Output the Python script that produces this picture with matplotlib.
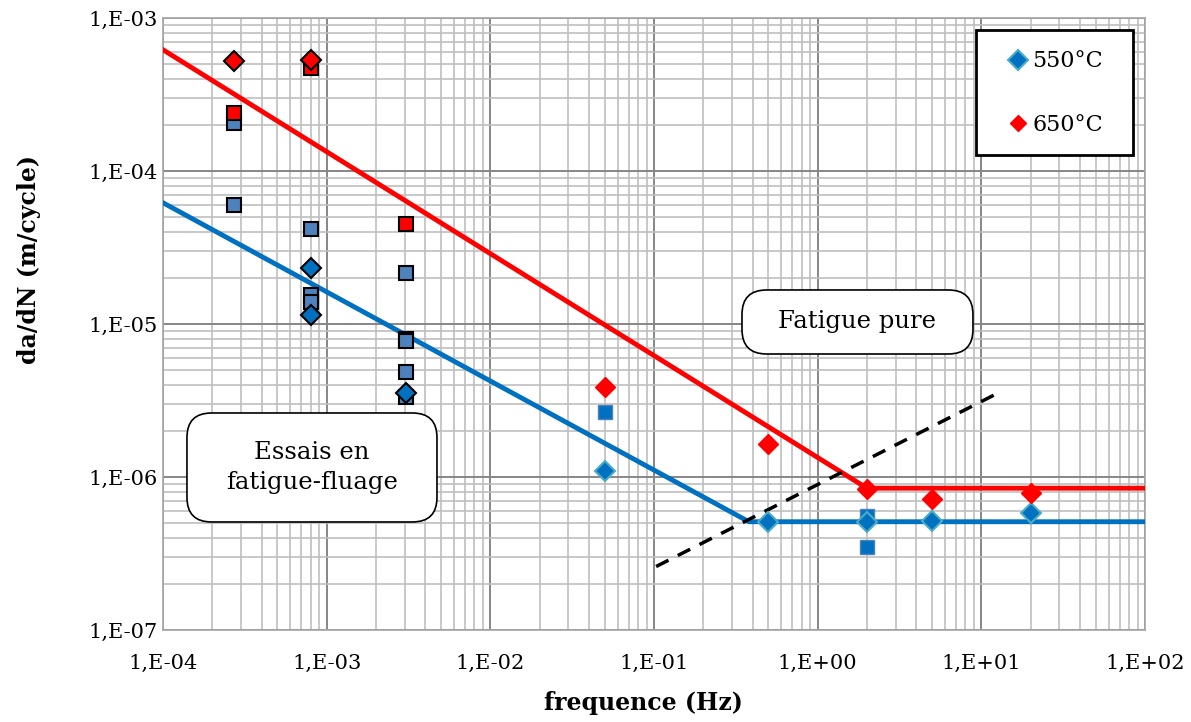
import matplotlib
matplotlib.use("Agg")
import matplotlib.pyplot as plt
from matplotlib.patches import FancyBboxPatch, Rectangle
from matplotlib.ticker import LogLocator, FixedLocator, NullFormatter
import numpy as np

plt.rcParams['font.family'] = ['DejaVu Serif']

# ---- data ----
# 650°C diamonds
r_dia_x = [2.72e-4, 8.05e-4, 0.05, 0.5, 2.0, 5.0, 20.0]
r_dia_y = [5.2e-4, 5.3e-4, 3.9e-6, 1.65e-6, 8.3e-7, 7.2e-7, 7.9e-7]
# 650°C squares (outlined)
r_sq_x = [2.72e-4, 8.05e-4, 3.07e-3]
r_sq_y = [2.4e-4, 4.7e-4, 4.5e-5]
# 550°C outlined squares
b_sq_o_x = [2.72e-4, 2.72e-4, 8.05e-4, 8.05e-4, 8.05e-4, 3.07e-3, 3.07e-3, 3.07e-3, 3.07e-3, 3.07e-3]
b_sq_o_y = [2.06e-4, 6.0e-5, 4.2e-5, 1.55e-5, 1.39e-5, 2.15e-5, 8.0e-6, 7.7e-6, 4.86e-6, 3.35e-6]
# 550°C outlined diamonds
b_dia_o_x = [8.05e-4, 8.05e-4, 3.07e-3]
b_dia_o_y = [2.32e-5, 1.15e-5, 3.54e-6]
# 550°C squares (no outline)
b_sq_x = [0.05, 2.0, 2.0]
b_sq_y = [2.66e-6, 5.6e-7, 3.5e-7]
# 550°C diamonds (legend series)
b_dia_x = [0.05, 0.5, 2.0, 5.0, 20.0]
b_dia_y = [1.09e-6, 5.1e-7, 5.1e-7, 5.15e-7, 5.85e-7]

# fit lines
red_fit_x = [1e-4, 2.0, 100.0]
red_fit_y = [6.2e-4, 8.45e-7, 8.45e-7]
blue_fit_x = [1e-4, 0.38, 100.0]
blue_fit_y = [6.2e-5, 5.1e-7, 5.1e-7]
dash_x = [0.103, 12.4]
dash_y = [2.6e-7, 3.5e-6]

xticks = [1e-4, 1e-3, 1e-2, 1e-1, 1e0, 1e1, 1e2]
xtick_labels = ["1,E-04", "1,E-03", "1,E-02", "1,E-01", "1,E+00", "1,E+01", "1,E+02"]
yticks = [1e-7, 1e-6, 1e-5, 1e-4, 1e-3]
ytick_labels = ["1,E-07", "1,E-06", "1,E-05", "1,E-04", "1,E-03"]

# ---- figure ----
fig = plt.figure(figsize=(11.91, 7.22), dpi=100)
ax = fig.add_axes([163/1191, 92/722, 982/1191, 612/722])
ax.set_xscale('log')
ax.set_yscale('log')
ax.set_xlim(1e-4, 1e2)
ax.set_ylim(1e-7, 1e-3)

ax.xaxis.set_major_locator(FixedLocator(xticks))
ax.yaxis.set_major_locator(FixedLocator(yticks))
ax.xaxis.set_minor_locator(LogLocator(base=10, subs=np.arange(2, 10)))
ax.yaxis.set_minor_locator(LogLocator(base=10, subs=np.arange(2, 10)))
ax.xaxis.set_minor_formatter(NullFormatter())
ax.yaxis.set_minor_formatter(NullFormatter())
ax.set_xticklabels(xtick_labels)
ax.set_yticklabels(ytick_labels)
ax.tick_params(which='both', length=0, labelsize=15, colors='black')
ax.tick_params(axis='x', pad=17)
ax.tick_params(axis='y', pad=4)

ax.grid(which='minor', color='#BFBFBF', linewidth=1.2, zorder=0)
ax.grid(which='major', color='#868686', linewidth=1.4, zorder=0)
ax.set_axisbelow(True)
for s in ax.spines.values():
    s.set_color('#A6A6A6')
    s.set_linewidth(1.2)

ax.plot(red_fit_x, red_fit_y, color='#FF0000', lw=3.5, zorder=3)
ax.plot(blue_fit_x, blue_fit_y, color='#0070C0', lw=3.5, zorder=3)
ax.plot(dash_x, dash_y, color='black', lw=2.5, ls=(0, (4, 3)), zorder=3)

ax.plot(b_sq_o_x, b_sq_o_y, 's', ms=10, mfc='#4F81BD', mec='black', mew=1.5, ls='none', zorder=4)
ax.plot(r_sq_x, r_sq_y, 's', ms=10, mfc='#FF0000', mec='black', mew=1.5, ls='none', zorder=4)
ax.plot(b_dia_o_x, b_dia_o_y, 'D', ms=10.5, mfc='#0070C0', mec='black', mew=1.5, ls='none', zorder=5)
ax.plot(b_sq_x, b_sq_y, 's', ms=10, mfc='#0070C0', mec='#4F81BD', mew=1, ls='none', zorder=4)
l550, = ax.plot(b_dia_x, b_dia_y, 'D', ms=10.5, mfc='#0070C0', mec='#4BACC6', mew=1.5, ls='none', zorder=5, label='550°C')
ax.plot(r_dia_x[:2], r_dia_y[:2], 'D', ms=10.5, mfc='#FF0000', mec='black', mew=1.5, ls='none', zorder=5)
ax.plot(r_dia_x[2:], r_dia_y[2:], 'D', ms=10.5, mfc='#FF0000', mec='#FF0000', mew=1, ls='none', zorder=5)
l650, = ax.plot([], [], 'D', ms=8.5, mfc='#FF0000', mec='#FF0000', ls='none', label='650°C')

# legend frame + legend
ax.add_patch(Rectangle((0.8279, 0.7761), 0.9878 - 0.8279, 0.9804 - 0.7761, transform=ax.transAxes,
                       facecolor='white', edgecolor='black', lw=2, zorder=8))
leg = ax.legend(handles=[l550, l650], loc='upper left', bbox_to_anchor=(0.8635, 0.947),
                fontsize=16, frameon=False, labelspacing=1.85,
                handlelength=0.6, handletextpad=0.35, borderpad=0, borderaxespad=0)
leg.set_zorder(9)

# text boxes (axes fraction)
def rbox(x0, y0, x1, y1):
    p = FancyBboxPatch((x0, y0), x1 - x0, y1 - y0, boxstyle='round,pad=0,rounding_size=0.025',
                       transform=ax.transAxes, facecolor='white', edgecolor='black', lw=1.2, zorder=6,
                       mutation_aspect=982/612)
    ax.add_patch(p)

rbox(0.5896, 0.451, 0.8248, 0.5556)
ax.text((0.5896 + 0.8248) / 2, (0.451 + 0.5556) / 2, 'Fatigue pure', transform=ax.transAxes,
        ha='center', va='center', fontsize=17.5, zorder=7)
rbox(0.0244, 0.1765, 0.279, 0.3546)
ax.text((0.0244 + 0.279) / 2, (0.1765 + 0.3546) / 2, 'Essais en\nfatigue-fluage', transform=ax.transAxes,
        ha='center', va='center', fontsize=17.5, zorder=7, linespacing=1.35)

ax.set_xlabel('frequence (Hz)', fontsize=17, fontweight='bold', va='top')
ax.xaxis.set_label_coords(0.489, -0.1)
ax.set_ylabel('da/dN (m/cycle)', fontsize=17, fontweight='bold')
ax.yaxis.set_label_coords(-0.124, 0.605)

fig.savefig('out.png', dpi=100)
